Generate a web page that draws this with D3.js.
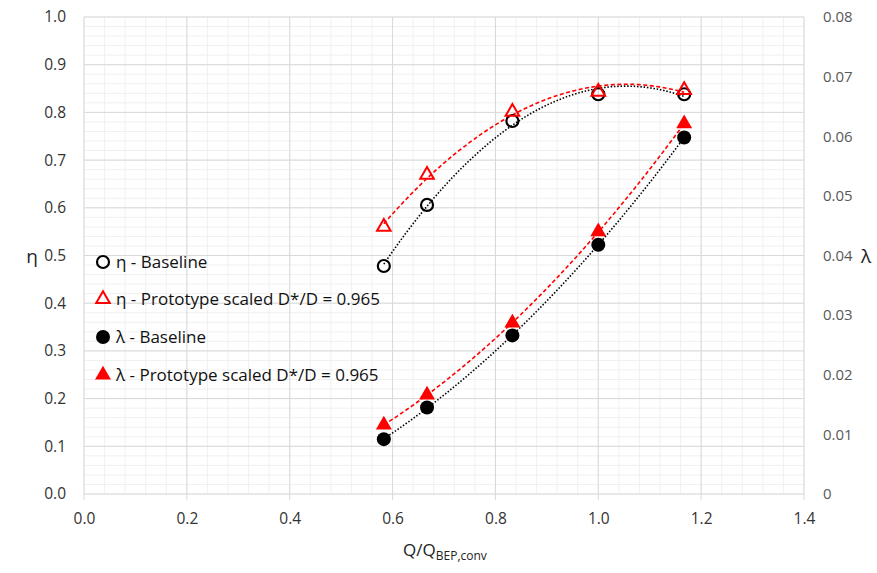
<!DOCTYPE html>
<html>
<head>
<meta charset="utf-8">
<script src="https://cdn.jsdelivr.net/npm/d3@7"></script>
<style>
  body { margin: 0; background: #fff; }
  svg { font-family: "Open Sans", sans-serif; }
</style>
</head>
<body>
<svg id="drawing_region"></svg>
<script>
// flow ratio Q/Q_BEP,conv
const flow = [0.583, 0.667, 0.833, 1.0, 1.167];
// efficiency (left axis)
const etaBaseline = [0.478, 0.606, 0.782, 0.838, 0.838];
const etaPrototype = [0.560, 0.669, 0.801, 0.843, 0.847];
// lambda (right axis)
const lambdaBaseline = [0.0092, 0.0145, 0.0266, 0.0418, 0.0598];
const lambdaPrototype = [0.0116, 0.0166, 0.0287, 0.0440, 0.0621];

const xTicks = [0, 0.2, 0.4, 0.6, 0.8, 1.0, 1.2, 1.4];
const yLeftTicks = [0, 0.1, 0.2, 0.3, 0.4, 0.5, 0.6, 0.7, 0.8, 0.9, 1.0];
const yRightTicks = [0, 0.01, 0.02, 0.03, 0.04, 0.05, 0.06, 0.07, 0.08];

const legendLabels = [
    "η - Baseline",
    "η - Prototype scaled D*/D = 0.965",
    "λ - Baseline",
    "λ - Prototype scaled D*/D = 0.965"
];

const config = {
    width: 877,
    height: 573,
    margin: {top: 17, right: 73, bottom: 79, left: 84}
};

const svg = d3.select('#drawing_region')
    .attr('width', config.width)
    .attr('height', config.height);

const inner_width = config.width - config.margin.left - config.margin.right;
const inner_height = config.height - config.margin.top - config.margin.bottom;

const chart = svg.append('g')
    .attr('transform', `translate(${config.margin.left}, ${config.margin.top})`);

const xscale = d3.scaleLinear().domain([0, 1.4]).range([0, inner_width]);
const yscale = d3.scaleLinear().domain([0, 1.0]).range([inner_height, 0]);
const yscale_r = d3.scaleLinear().domain([0, 0.08]).range([inner_height, 0]);

// minor grid
chart.append('g')
    .selectAll('line')
    .data(d3.range(0, 1.4001, 0.04))
    .join('line')
    .attr('x1', d => xscale(d)).attr('x2', d => xscale(d))
    .attr('y1', 0).attr('y2', inner_height)
    .attr('stroke', '#f0f0f0');
chart.append('g')
    .selectAll('line')
    .data(d3.range(0, 1.0001, 0.02))
    .join('line')
    .attr('x1', 0).attr('x2', inner_width)
    .attr('y1', d => yscale(d)).attr('y2', d => yscale(d))
    .attr('stroke', '#f0f0f0');

// major grid
chart.append('g')
    .selectAll('line')
    .data(xTicks)
    .join('line')
    .attr('x1', d => xscale(d)).attr('x2', d => xscale(d))
    .attr('y1', 0).attr('y2', inner_height + 6)
    .attr('stroke', '#d9d9d9');
chart.append('g')
    .selectAll('line')
    .data(yLeftTicks)
    .join('line')
    .attr('x1', 0).attr('x2', inner_width)
    .attr('y1', d => yscale(d)).attr('y2', d => yscale(d))
    .attr('stroke', '#d9d9d9');

// axes
const xaxis = d3.axisBottom(xscale).tickValues(xTicks).tickFormat(d3.format('.1f')).tickSize(0).tickPadding(19);
const yaxis = d3.axisLeft(yscale).tickValues(yLeftTicks).tickFormat(d3.format('.1f')).tickSize(0).tickPadding(18);
const yaxis_r = d3.axisRight(yscale_r).tickValues(yRightTicks).tickFormat(d => d === 0 ? '0' : d3.format('.2f')(d)).tickSize(0).tickPadding(19);

chart.append('g')
    .attr('transform', `translate(0, ${inner_height})`)
    .call(xaxis)
    .call(g => g.select('.domain').remove())
    .selectAll('text')
    .attr('font-size', '15.5px')
    .attr('font-family', '"Open Sans", sans-serif')
    .attr('fill', '#333');

chart.append('g')
    .call(yaxis)
    .call(g => g.select('.domain').remove())
    .selectAll('text')
    .attr('font-size', '15.5px')
    .attr('font-family', '"Open Sans", sans-serif')
    .attr('fill', '#333');

chart.append('g')
    .attr('transform', `translate(${inner_width}, 0)`)
    .call(yaxis_r)
    .call(g => g.select('.domain').remove())
    .selectAll('text')
    .attr('font-size', '15px')
    .attr('font-family', '"Open Sans", sans-serif')
    .attr('fill', '#595959');

// axis titles
svg.append('text')
    .attr('x', 32).attr('y', 263)
    .attr('text-anchor', 'middle')
    .attr('font-size', '19px')
    .attr('fill', '#222')
    .text('η');
svg.append('text')
    .attr('x', 866).attr('y', 263)
    .attr('text-anchor', 'middle')
    .attr('font-size', '19px')
    .attr('fill', '#222')
    .text('λ');
const xtitle = svg.append('text')
    .attr('x', 445).attr('y', 556)
    .attr('text-anchor', 'middle')
    .attr('font-size', '17px')
    .attr('fill', '#222');
xtitle.append('tspan').text('Q/Q');
xtitle.append('tspan').attr('font-size', '12px').attr('dy', 4).text('BEP,conv');

// quadratic trendline (least squares), as the spreadsheet draws it
function polyFit(xs, ys) {
    const n = xs.length;
    let s = [0, 0, 0, 0, 0], t = [0, 0, 0];
    for (let i = 0; i < n; i++) {
        for (let k = 0; k < 5; k++) s[k] += Math.pow(xs[i], k);
        for (let k = 0; k < 3; k++) t[k] += ys[i] * Math.pow(xs[i], k);
    }
    const A = [[s[0], s[1], s[2], t[0]], [s[1], s[2], s[3], t[1]], [s[2], s[3], s[4], t[2]]];
    for (let i = 0; i < 3; i++) {
        for (let j = i + 1; j < 3; j++) {
            const f = A[j][i] / A[i][i];
            for (let k = i; k < 4; k++) A[j][k] -= f * A[i][k];
        }
    }
    const c = [0, 0, 0];
    for (let i = 2; i >= 0; i--) {
        let v = A[i][3];
        for (let k = i + 1; k < 3; k++) v -= A[i][k] * c[k];
        c[i] = v / A[i][i];
    }
    return x => c[0] + c[1] * x + c[2] * x * x;
}

const series = [
    {values: etaBaseline, y: yscale, color: '#000', dash: '1.5 1.8', fill: 'none', shape: 'circle'},
    {values: etaPrototype, y: yscale, color: '#ff0000', dash: '4 2.5', fill: 'none', shape: 'triangle'},
    {values: lambdaBaseline, y: yscale_r, color: '#000', dash: '1.5 1.8', fill: '#000', shape: 'circle'},
    {values: lambdaPrototype, y: yscale_r, color: '#ff0000', dash: '4 2.5', fill: '#ff0000', shape: 'triangle'}
];

const xmin = d3.min(flow), xmax = d3.max(flow);
series.forEach(s => {
    const f = polyFit(flow, s.values);
    const xs = d3.range(0, 61).map(i => xmin + (xmax - xmin) * i / 60);
    const line = d3.line().x(d => xscale(d)).y(d => s.y(f(d)));
    chart.append('path')
        .attr('d', line(xs))
        .attr('fill', 'none')
        .attr('stroke', s.color)
        .attr('stroke-width', 1.6)
        .attr('stroke-dasharray', s.dash);
});

function drawMarker(g, s) {
    if (s.shape === 'circle') {
        g.append('circle')
            .attr('r', s.fill === 'none' ? 6 : 7)
            .attr('fill', s.fill === 'none' ? 'none' : s.fill)
            .attr('stroke', s.color)
            .attr('stroke-width', s.fill === 'none' ? 2.2 : 0);
    } else {
        g.append('path')
            .attr('d', d3.symbol(d3.symbolTriangle, s.fill === 'none' ? 80 : 110)())
            .attr('fill', s.fill === 'none' ? 'none' : s.fill)
            .attr('stroke', s.color)
            .attr('stroke-width', s.fill === 'none' ? 2 : 0);
    }
}

series.forEach(s => {
    s.values.forEach((v, i) => {
        const g = chart.append('g')
            .attr('transform', `translate(${xscale(flow[i])}, ${s.y(v)})`);
        drawMarker(g, s);
    });
});

// legend
const legendY = [262, 299, 337, 375];
series.forEach((s, i) => {
    const g = svg.append('g').attr('transform', `translate(103, ${legendY[i]})`);
    drawMarker(g, s);
    svg.append('text')
        .attr('x', 116).attr('y', legendY[i] + 6)
        .attr('font-size', '17px')
        .attr('fill', '#111')
        .text(legendLabels[i]);
});
</script>
</body>
</html>
